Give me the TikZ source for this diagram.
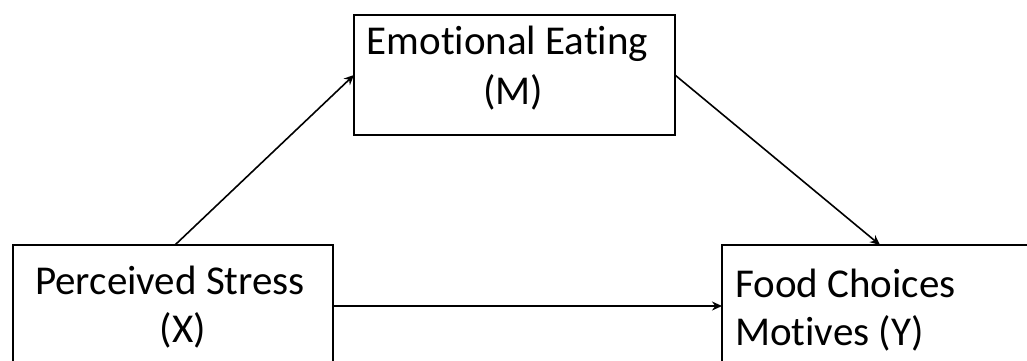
\documentclass[tikz,border=0pt]{standalone}
\usepackage{fontspec}
\setmainfont{Carlito}[Ligatures=NoCommon]
\usetikzlibrary{arrows.meta}
\begin{document}
\begin{tikzpicture}[x=1pt,y=-1pt,
  box/.style={draw, line width=1.8pt, inner sep=0pt, outer sep=0pt},
  lbl/.style={font=\fontsize{41}{48}\selectfont, inner sep=0pt, anchor=base},
  arr/.style={line width=1.6pt, -{Stealth[length=10pt,width=9pt]}}]
\useasboundingbox (0,0) rectangle (1027,361);
\clip (0,0) rectangle (1027,361);
\node[box, minimum width=321pt, minimum height=120pt] (M) at (514.5,75) {};
\node[box, minimum width=320pt, minimum height=122pt] (X) at (173,306) {};
\node[box, minimum width=330pt, minimum height=122pt] (Y) at (887,306) {};
\node[lbl] (m1) at (507.5,55) {Emotional Eating};
\node[lbl] (m2) at (513,104) {(M)};
\node[lbl] (x1) at (170,294) {Perceived Stress};
\node[lbl] (x2) at (183,342) {(X)};
\node[lbl, anchor=base west] (y1) at (735,297) {Food Choices};
\node[lbl, anchor=base west] (y2) at (735,345) {Motives (Y)};
\draw[arr] ([xshift=2pt]X.north) -- (M.west);
\draw[arr] (M.east) -- ([xshift=-7pt]Y.north);
\draw[arr] (X.east) -- (Y.west);
\end{tikzpicture}
\end{document}
